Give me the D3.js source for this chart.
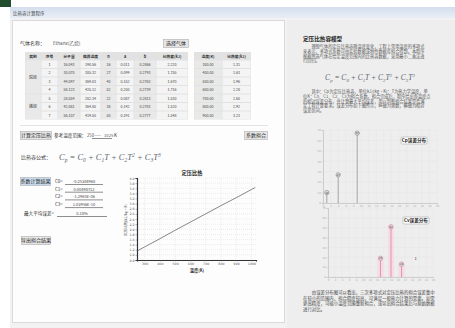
<!DOCTYPE html>
<html>
<head>
<meta charset="utf-8">
<script src="https://cdn.jsdelivr.net/npm/d3@7"></script>
<style>
  html, body { margin: 0; padding: 0; background: #ffffff; }
  svg { display: block; font-family: "Noto Sans CJK SC", "Noto Sans", sans-serif; }
</style>
</head>
<body>
<svg id="app" width="455" height="328"></svg>
<script>
// ---- data ----
const gasName = "Ethane(乙烷)";
const tableHead = ["类别", "序号", "分子量", "临界温度", "n", "a", "b", "比热容(kJ)"];
const tableRows = [
  ["", "1", "16.043", "190.56", "16", "0.011", "0.2866", "2.220"],
  ["", "2", "30.070", "305.32", "27", "0.099", "0.2793", "1.755"],
  ["", "3", "44.097", "369.83", "40", "0.152", "0.2763", "1.670"],
  ["", "4", "58.123", "425.12", "52", "0.200", "0.2739", "1.716"],
  ["", "5", "28.054", "282.34", "22", "0.087", "0.2813", "1.530"],
  ["", "6", "42.081", "364.85", "38", "0.142", "0.2783", "1.520"],
  ["", "7", "56.107", "419.50", "50", "0.191", "0.2777", "1.548"]
];
const groupNames = ["烷烃", "烯烃"];
const groupSpans = [[0, 3], [4, 6]];
const sideHead = ["温度(K)", "比热容(kJ)"];
const sideRows = [
  ["300.00", "1.31"], ["400.00", "1.63"], ["500.00", "1.96"], ["600.00", "2.28"],
  ["700.00", "2.60"], ["800.00", "2.92"], ["900.00", "3.23"]
];
const coefNames = ["C0", "C1", "C2", "C3"];
const coefValues = ["-0.25384968", "0.00498712", "-1.2965E-06", "1.03956E-10"];
const maxError = "0.18%";

// Cp(T) curve of the main chart
const tempK = [250, 300, 400, 500, 600, 700, 800, 900, 1000, 1025];
const cpValues = [1.15, 1.31, 1.63, 1.96, 2.28, 2.60, 2.92, 3.23, 3.55, 3.63];
const xTicks = [300, 400, 500, 600, 700, 800, 900, 1000];
const yTicks = [0.8, 1.0, 1.2, 1.4, 1.6, 1.8, 2.0, 2.2, 2.4, 2.6, 2.8, 3.0, 3.2, 3.4, 3.6, 3.8, 4.0];

// error distributions in the help panel
const err1X = [1, 4, 9];
const err1Y = [10, 27, 67];
const err2X = [15, 18, 21];
const err2Y = [19, 51, 13];

const helpTitle = "定压比热容模型";
const helpPara1 = [
  "　　理想气体的定压比热容随温度变化，工程上常用温度的多项式",
  "来表示，多项式系数可由实验数据或物性数据库拟合得到。本程序",
  "根据所选气体在给定温度范围内的比热容数据，采用最小二乘法进",
  "行回归。"
];
const helpPara2 = [
  "　　其中：Cp为定压比热容，单位kJ/(kg·K)；T为热力学温度，单",
  "位K；C0、C1、C2、C3为拟合系数。拟合完成后，程序给出各温度点",
  "的相对误差分布，并计算最大平均误差，用以判断拟合结果是否满",
  "足工程计算要求。误差分布如下图所示，纵轴为频数，横轴为相对",
  "误差区间。"
];
const helpPara3 = [
  "　　由误差分布图可以看出，三次多项式对定压比热的拟合误差集中",
  "在较小的范围内，拟合精度较高，可满足一般热力计算的需要。如需",
  "更高精度，可缩小温度范围重新拟合，或导出拟合结果后与原始数据",
  "进行对比。"
];

// ---- drawing ----
const svg = d3.select("#app");

// window frame
svg.append("rect").attr("x", 0).attr("y", 0).attr("width", 11).attr("height", 7).attr("fill", "#1f4d2e");
const defs = svg.append("defs");
const tg = defs.append("linearGradient").attr("id", "titleGrad").attr("x1", 0).attr("y1", 0).attr("x2", 0).attr("y2", 1);
tg.append("stop").attr("offset", "0%").attr("stop-color", "#d3dfee");
tg.append("stop").attr("offset", "100%").attr("stop-color", "#e8eef6");
svg.append("rect").attr("x", 10).attr("y", 7).attr("width", 445).attr("height", 11).attr("fill", "url(#titleGrad)");
svg.append("text").attr("x", 13).attr("y", 14.5).attr("font-size", 4.5).attr("fill", "#444").text("比热容计算程序");
svg.append("rect").attr("x", 10).attr("y", 18).attr("width", 445).attr("height", 310).attr("fill", "#f2f2f2");

// left panel
svg.append("rect").attr("x", 12.5).attr("y", 20.5).attr("width", 272).attr("height", 302)
  .attr("fill", "#fdfdfd").attr("stroke", "#dadada");
// right panel
svg.append("rect").attr("x", 287).attr("y", 20).attr("width", 168).attr("height", 308).attr("fill", "#eeeeee");

function label(x, y, t, size, opts = {}) {
  return svg.append("text").attr("x", x).attr("y", y).attr("font-size", size || 5)
    .attr("fill", opts.fill || "#333").attr("font-weight", opts.bold ? "bold" : null)
    .attr("text-anchor", opts.anchor || "start").text(t);
}
function button(x, y, w, h, t, fill) {
  svg.append("rect").attr("x", x + 0.5).attr("y", y + 0.5).attr("width", w).attr("height", h)
    .attr("fill", fill || "#e6e6e6").attr("stroke", "#adadad").attr("stroke-width", 0.6);
  label(x + w / 2 + 0.5, y + h / 2 + 2.3, t, 5, { anchor: "middle", fill: "#222" });
}
function underline(x1, x2, y) {
  svg.append("line").attr("x1", x1).attr("x2", x2).attr("y1", y).attr("y2", y).attr("stroke", "#444").attr("stroke-width", 0.6);
}

// gas selection row
label(20, 45, "气体名称：", 5);
label(53, 45, gasName, 4.6, { fill: "#555" });
button(163, 39, 25, 8, "选择气体");

// property tables
function drawTable(x0, colW, head, rows, startY, headH, rowH, groups) {
  const totalW = d3.sum(colW);
  const g = svg.append("g");
  g.append("rect").attr("x", x0).attr("y", startY).attr("width", totalW).attr("height", headH + rowH * rows.length)
    .attr("fill", "#e2e2e2");
  const xs = [x0];
  colW.forEach((w, i) => xs.push(xs[i] + w));
  head.forEach((h, i) => {
    g.append("text").attr("x", xs[i] + colW[i] / 2).attr("y", startY + headH - 2.4).attr("font-size", 3.8)
      .attr("text-anchor", "middle").attr("font-weight", "bold").attr("fill", "#333").text(h);
  });
  rows.forEach((r, ri) => {
    const y = startY + headH + ri * rowH;
    r.forEach((v, ci) => {
      if (groups && ci === 0) return;
      g.append("rect").attr("x", xs[ci] + 0.5).attr("y", y + 0.5).attr("width", colW[ci] - 1).attr("height", rowH - 1)
        .attr("fill", ci % 2 === 1 ? "#f4f4f4" : "#e9e9e9");
      g.append("text").attr("x", xs[ci] + colW[ci] / 2).attr("y", y + rowH - 2.6).attr("font-size", 3.6)
        .attr("text-anchor", "middle").attr("fill", "#444").text(v);
    });
  });
  if (groups) {
    groups.spans.forEach((s, gi) => {
      const y1 = startY + headH + s[0] * rowH, y2 = startY + headH + (s[1] + 1) * rowH;
      g.append("rect").attr("x", xs[0] + 0.5).attr("y", y1 + 0.5).attr("width", colW[0] - 1).attr("height", y2 - y1 - 1)
        .attr("fill", "#e9e9e9");
      g.append("text").attr("x", xs[0] + colW[0] / 2).attr("y", (y1 + y2) / 2 + 1.5).attr("font-size", 4)
        .attr("text-anchor", "middle").attr("fill", "#333").text(groups.names[gi]);
    });
  }
}
drawTable(25, [16, 17, 22, 21, 15, 18, 22, 32], tableHead, tableRows, 52, 8, 8.5, { spans: groupSpans, names: groupNames });
drawTable(194, [28, 29], sideHead, sideRows, 52, 8, 8.5, null);
svg.append("line").attr("x1", 20).attr("x2", 268).attr("y1", 125.5).attr("y2", 125.5).attr("stroke", "#e4e4e4");

// temperature range row
button(20, 131, 31, 8, "计算定压比热");
label(54, 137, "参考温度范围：", 4.6);
label(87, 137, "250——", 4.2, { fill: "#555" });
underline(92, 112, 138.5);
label(104, 137, "1025", 4.2, { fill: "#555" });
label(114, 137, "K", 4.6);
button(244, 131, 23, 8, "系数拟合");

// formula row
label(21, 159, "比热容公式：", 5);
function formula(x, y, size, anchor) {
  const t = svg.append("text").attr("x", x).attr("y", y).attr("font-size", size)
    .attr("font-family", "'Liberation Serif', 'DejaVu Serif', serif").attr("font-style", "italic")
    .attr("fill", "#5a6470").attr("text-anchor", anchor || "start");
  const parts = [["C", 0], ["p", 1], [" = C", 0], ["0", 1], [" + C", 0], ["1", 1], ["T + C", 0], ["2", 1], ["T", 0], ["2", 2], [" + C", 0], ["3", 1], ["T", 0], ["3", 2]];
  // sub/superscripts are shifted with dy and the baseline is restored before the next part
  let shift = 0;
  parts.forEach(([s, k]) => {
    const target = k === 1 ? size * 0.2 : k === 2 ? -size * 0.4 : 0;
    const ts = t.append("tspan").text(s).attr("dy", target - shift);
    if (k) ts.attr("font-size", size * 0.65);
    shift = target;
  });
}
formula(59, 160, 8.5);

// fitted coefficients
button(20, 177, 30, 8, "系数计算结果", "#c9dcef");
coefNames.forEach((c, i) => {
  const y = 183 + i * 7.7;
  label(55, y, c + "=", 4.5);
  underline(65, 103, y + 1.5);
  label(84, y, coefValues[i], 4, { anchor: "middle", fill: "#444" });
});
label(24, 215, "最大平均误差=", 4.6);
underline(57, 107, 216.5);
label(82, 215, maxError, 4, { anchor: "middle", fill: "#444" });
button(21, 236, 29, 8, "导出拟合结果");

// main Cp chart
const plot = { left: 137, right: 256, top: 178, bottom: 260 };
const x = d3.scaleLinear().domain([250, 1030]).range([plot.left, plot.right]);
const y = d3.scaleLinear().domain([0.8, 4.0]).range([plot.bottom, plot.top]);
const chart = svg.append("g");
chart.append("text").attr("x", 192).attr("y", 175).attr("font-size", 5.2).attr("font-weight", "bold")
  .attr("text-anchor", "middle").attr("fill", "#222").text("定压比热");
chart.append("g").selectAll("line").data(yTicks).join("line")
  .attr("x1", plot.left).attr("x2", plot.right).attr("y1", d => y(d)).attr("y2", d => y(d))
  .attr("stroke", "#d4d4d4").attr("stroke-width", 0.4).attr("stroke-dasharray", "1,1");
chart.append("g").selectAll("line").data(xTicks).join("line")
  .attr("x1", d => x(d)).attr("x2", d => x(d)).attr("y1", plot.top).attr("y2", plot.bottom)
  .attr("stroke", "#d4d4d4").attr("stroke-width", 0.4).attr("stroke-dasharray", "1,1");

const xAxis = chart.append("g").attr("transform", `translate(0,${plot.bottom})`)
  .call(d3.axisBottom(x).tickValues(xTicks).tickSize(1.5).tickPadding(1.5).tickFormat(d3.format("d")));
const yAxis = chart.append("g").attr("transform", `translate(${plot.left},0)`)
  .call(d3.axisLeft(y).tickValues(yTicks).tickSize(1.5).tickPadding(1).tickFormat(d3.format(".1f")));
[xAxis, yAxis].forEach(a => {
  a.select(".domain").attr("stroke", "#333").attr("stroke-width", 1.2);
  a.selectAll(".tick line").attr("stroke", "#555").attr("stroke-width", 0.4);
  a.selectAll("text").attr("font-size", 3.2).attr("fill", "#555").attr("font-family", "'DejaVu Sans', sans-serif");
});
chart.append("text").attr("x", 197).attr("y", 272).attr("font-size", 4.2).attr("font-weight", "bold")
  .attr("text-anchor", "middle").attr("fill", "#333").text("温度(K)");
chart.append("text").attr("transform", "translate(127,220) rotate(-90)").attr("font-size", 3.6)
  .attr("text-anchor", "middle").attr("fill", "#555").text("定压比热(kJ/kg·K)");
chart.append("path").datum(tempK.map((t, i) => [t, cpValues[i]]))
  .attr("fill", "none").attr("stroke", "#555").attr("stroke-width", 0.7)
  .attr("d", d3.line().x(d => x(d[0])).y(d => y(d[1])));

// help panel text
label(303, 41, helpTitle, 5.6, { bold: true, fill: "#222" });
helpPara1.forEach((t, i) => label(303, 48 + i * 4.8, t, 4.2, { fill: "#555" }));
formula(370, 80, 7.5, "middle");
helpPara2.forEach((t, i) => label(303, 93 + i * 4.8, t, 4.2, { fill: "#555" }));
helpPara3.forEach((t, i) => label(303, 294 + i * 5.6, t, 4.4, { fill: "#444" }));

// error distribution stem charts
function stemChart(box, xs, ys, color, bandColor, title, titleBox, extra) {
  const g = svg.append("g");
  const sx = d3.scaleLinear().domain([0, 30]).range([box.left, box.right]);
  const sy = d3.scaleLinear().domain([0, 70]).range([box.bottom, box.top]);
  g.append("g").selectAll("line").data(d3.range(0, 31, 2)).join("line")
    .attr("x1", d => sx(d)).attr("x2", d => sx(d)).attr("y1", box.top).attr("y2", box.bottom)
    .attr("stroke", "#e2e2e2").attr("stroke-width", 0.4);
  g.append("g").selectAll("line").data(d3.range(0, 71, 10)).join("line")
    .attr("x1", box.left).attr("x2", box.right).attr("y1", d => sy(d)).attr("y2", d => sy(d))
    .attr("stroke", "#e2e2e2").attr("stroke-width", 0.4);
  if (bandColor) {
    g.append("g").selectAll("rect").data(xs).join("rect")
      .attr("x", d => sx(d) - 3).attr("width", 6).attr("y", (d, i) => sy(ys[i])).attr("height", (d, i) => box.bottom - sy(ys[i]))
      .attr("fill", bandColor);
  }
  const ax = g.append("g").attr("transform", `translate(0,${box.bottom})`)
    .call(d3.axisBottom(sx).ticks(15).tickSize(1.2).tickPadding(1).tickFormat(d3.format("d")));
  const ay = g.append("g").attr("transform", `translate(${box.left},0)`)
    .call(d3.axisLeft(sy).ticks(7).tickSize(1.2).tickPadding(1).tickFormat(d3.format("d")));
  [ax, ay].forEach(a => {
    a.select(".domain").attr("stroke", "#bbb").attr("stroke-width", 0.6);
    a.selectAll(".tick line").attr("stroke", "#bbb").attr("stroke-width", 0.4);
    a.selectAll("text").attr("font-size", 2.6).attr("fill", "#aaa").attr("font-family", "'DejaVu Sans', sans-serif");
  });
  g.append("g").selectAll("line").data(xs).join("line")
    .attr("x1", d => sx(d)).attr("x2", d => sx(d)).attr("y1", box.bottom).attr("y2", (d, i) => sy(ys[i]))
    .attr("stroke", color).attr("stroke-width", 0.7);
  g.append("g").selectAll("circle").data(xs).join("circle")
    .attr("cx", d => sx(d)).attr("cy", (d, i) => sy(ys[i])).attr("r", 2.2)
    .attr("fill", "#ddd").attr("stroke", color).attr("stroke-width", 0.6);
  g.append("g").selectAll("text").data(ys).join("text")
    .attr("x", (d, i) => sx(xs[i])).attr("y", d => sy(d) + 1.2).attr("font-size", 2.8)
    .attr("text-anchor", "middle").attr("fill", "#333").text(d => d);
  g.append("rect").attr("x", titleBox[0]).attr("y", titleBox[1]).attr("width", 26).attr("height", 7)
    .attr("fill", "#fff").attr("stroke", "#999").attr("stroke-width", 0.5).attr("rx", 1);
  g.append("text").attr("x", titleBox[0] + 13).attr("y", titleBox[1] + 5.2).attr("font-size", 4.6)
    .attr("text-anchor", "middle").attr("font-weight", "bold").attr("fill", "#222").text(title);
  if (extra) {
    g.append("text").attr("x", sx(extra[0])).attr("y", sy(extra[1])).attr("font-size", 4)
      .attr("text-anchor", "middle").attr("fill", "#333").text(extra[2]);
  }
}
stemChart({ left: 323, right: 437, top: 130, bottom: 203 }, err1X, err1Y, "#888", null, "Cp误差分布", [401, 137]);
stemChart({ left: 328, right: 433, top: 208, bottom: 277 }, err2X, err2Y, "#d47a98", "#f6dbe4", "Cv误差分布", [403, 217], [25, 17, "1"]);
</script>
</body>
</html>
